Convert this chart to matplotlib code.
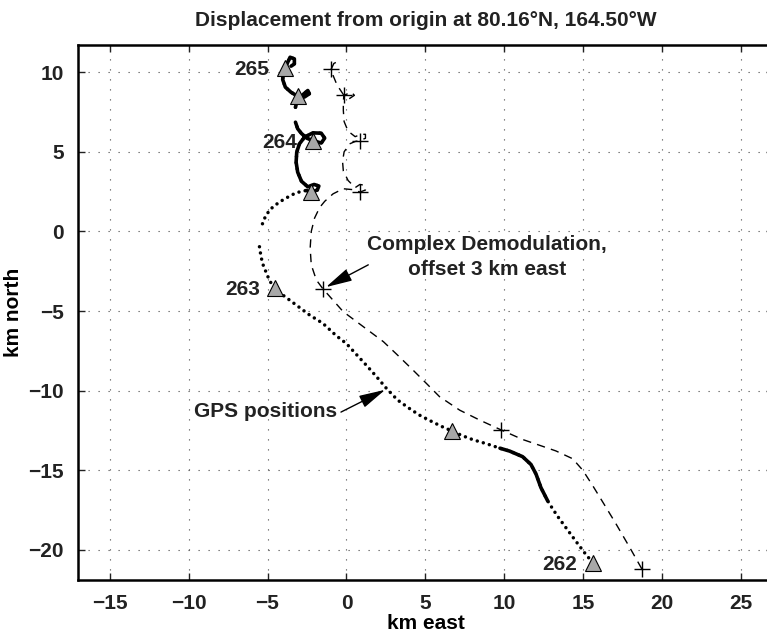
import matplotlib
matplotlib.use("Agg")
import matplotlib.pyplot as plt
import numpy as np

plt.rcParams['font.family'] = ['Liberation Sans', 'DejaVu Sans']
plt.rcParams['font.weight'] = 'bold'

nan = np.nan

# GPS track, km east / km north, from day 262 to day 265 (nan = gap)
gps_x = [15.59, 15.17, 14.53, 13.90, 13.37, 13.05, 12.74, 12.31, 12.00, 11.68,
         11.15, 10.33, 9.72, 8.87, 8.02, 7.28, 6.70, 6.21, 5.47, 4.62,
         3.98, 3.23, 2.52, 1.88, 1.25, 0.60, 0.00, -0.65, -1.49, -2.34,
         -3.19, -4.04, -4.50, -4.68, -4.89, -5.11, -5.32, -5.43, -5.53, nan,
         -5.32, -5.11, -4.79, -4.26, -3.72, -3.19, -2.55, -2.23, -1.85, -1.75,
         -2.05, -2.45, -2.85, -3.09, -3.19, -3.15, -2.98, -2.66, -2.13, -1.60,
         -1.38, -1.60, -2.13, -2.50, -2.85, -3.09, -3.23, nan, -3.23, -3.12,
         -2.75, -2.45, -2.35, -2.65, -3.09, -3.51, -3.87, -4.04, -4.00, -3.87,
         -3.72, -3.57, -3.30, -3.30, -3.51]
gps_y = [-20.80, -20.31, -19.47, -18.62, -17.90, -17.42, -16.93, -16.09, -15.24, -14.64,
         -14.15, -13.80, -13.62, -13.34, -13.09, -12.81, -12.54, -12.34, -11.98, -11.54,
         -11.12, -10.59, -9.85, -9.10, -8.40, -7.70, -7.05, -6.55, -5.78, -5.25,
         -4.62, -3.99, -3.58, -3.40, -3.05, -2.52, -2.00, -1.47, -0.84, nan,
         0.48, 1.00, 1.42, 1.84, 2.15, 2.43, 2.57, 2.47, 2.60, 2.85,
         2.95, 2.80, 3.15, 3.72, 4.35, 4.98, 5.50, 5.92, 6.19, 6.17,
         5.86, 5.55, 5.71, 5.85, 6.15, 6.45, 6.86, nan, 7.80, 8.25,
         8.60, 8.85, 8.65, 8.45, 8.49, 8.74, 9.06, 9.54, 10.00, 10.25,
         10.63, 10.94, 10.84, 10.52, 10.38]
# stretches where the fixes are so close they merge into a line
dense_runs = [(6, 12), (46, 85)]

# complex demodulation track, already offset 3 km east
cd_x = [18.70, 17.92, 17.07, 16.33, 15.59, 14.96, 14.32, 13.26, 12.21, 11.15,
        9.77, 8.45, 7.17, 5.89, 5.04, 4.19, 3.16, 2.34, 1.49, 0.64,
        -0.21, -0.96, -1.49, -1.91, -2.23, -2.30, -2.23, -2.02, -1.70, -1.38,
        -0.85, -0.21, 0.45, 0.85, 1.20, 1.15, 0.85, 0.55, 0.10, -0.20,
        -0.25, -0.15, 0.20, 0.55, 0.85, 1.20, 1.20, 0.90, 0.55, 0.10,
        -0.15, -0.20, -0.20, -0.17, 0.30, 0.50, 0.20, -0.20, -0.60, -0.85,
        -0.96, -0.80, -0.60]
cd_y = [-21.20, -19.83, -18.38, -17.17, -15.97, -15.00, -14.28, -13.79, -13.43, -13.07,
        -12.46, -11.86, -11.23, -10.38, -9.53, -8.69, -7.70, -6.93, -6.30, -5.67,
        -5.04, -4.20, -3.61, -3.05, -2.10, -1.05, 0.00, 0.84, 1.50, 1.89,
        2.36, 2.68, 2.62, 2.47, 2.60, 2.90, 2.95, 2.75, 3.20, 3.80,
        4.40, 5.00, 5.50, 5.65, 5.71, 5.85, 6.10, 6.10, 5.95, 6.30,
        6.90, 7.60, 8.10, 8.54, 8.75, 8.55, 8.35, 8.60, 9.20, 9.80,
        10.21, 10.55, 10.65]

# day markers
tri_x = [15.59, 6.70, -4.50, -2.23, -2.13, -3.09, -3.87]
tri_y = [-20.80, -12.54, -3.58, 2.47, 5.71, 8.49, 10.25]
tri_lab = ['262', '', '263', '', '264', '', '265']
plus_x = [18.70, 9.77, -1.49, 0.85, 0.85, -0.17, -0.96]
plus_y = [-21.20, -12.46, -3.61, 2.47, 5.71, 8.54, 10.21]

fig = plt.figure(figsize=(7.67, 6.36), dpi=100)
ax = fig.add_axes([0.1017, 0.088, 0.906, 0.841])

ax.plot(cd_x, cd_y, color='k', lw=1.0, linestyle=(0, (6, 4.5)), zorder=3)
ax.plot(plus_x, plus_y, '+', color='k', ms=11, mew=1.0, zorder=4)

gx = np.array(gps_x)
gy = np.array(gps_y)
ax.plot(gx, gy, color='k', lw=2.5, linestyle=(0, (0.01, 1.8)),
        dash_capstyle='round', zorder=3)
for a, b in dense_runs:
    ax.plot(gx[a:b + 1], gy[a:b + 1], color='k', lw=2.6,
            solid_capstyle='round', solid_joinstyle='round', zorder=3)

ax.plot(tri_x, tri_y, '^', ms=11, mfc='#a8a8a8', mec='k', mew=0.8, zorder=5)
for x, y, s in zip(tri_x, tri_y, tri_lab):
    if s:
        ax.text(x - 1.0, y - 0.1, s, ha='right', va='center', fontsize=15,
                fontweight='bold', color='#222222')

ax.text(8.9, -1.6, 'Complex Demodulation,\noffset 3 km east', ha='center',
        va='center', fontsize=15, fontweight='bold', color='#222222',
        linespacing=1.45)
ax.annotate('', xy=(-1.3, -3.5), xytext=(1.38, -2.1),
            arrowprops=dict(arrowstyle='-|>,head_length=0.9,head_width=0.22',
                            lw=1.0, color='k', mutation_scale=18, shrinkA=0, shrinkB=0))
ax.text(-0.6, -11.3, 'GPS positions', ha='right', va='center', fontsize=15,
        fontweight='bold', color='#222222')
ax.annotate('', xy=(2.45, -9.95), xytext=(-0.35, -11.35),
            arrowprops=dict(arrowstyle='-|>,head_length=0.9,head_width=0.22',
                            lw=1.0, color='k', mutation_scale=18, shrinkA=0, shrinkB=0))

ax.set_xlim(-17, 27)
ax.set_ylim(-21.9, 11.7)
ax.set_xticks(np.arange(-15, 26, 5))
ax.set_yticks(np.arange(-20, 11, 5))
ax.set_xticklabels([str(v).replace('-', '\u2212') for v in range(-15, 26, 5)])
ax.set_yticklabels([str(v).replace('-', '\u2212') for v in range(-20, 11, 5)])
ax.grid(True, color='0.35', lw=0.8, linestyle=(0, (1.1, 7.9)))
ax.set_axisbelow(True)
ax.tick_params(direction='in', top=True, right=True, length=5, width=1.0,
               labelsize=15, pad=10, colors='#222222')
for lab in ax.get_xticklabels() + ax.get_yticklabels():
    lab.set_fontweight('bold')
for sp in ax.spines.values():
    sp.set_linewidth(1.8)

ax.set_xlabel('km east', fontsize=15, fontweight='bold', labelpad=1)
ax.set_ylabel('km north', fontsize=15, fontweight='bold', labelpad=4)
ax.set_title('Displacement from origin at 80.16\u00b0N, 164.50\u00b0W',
             fontsize=15, fontweight='bold', pad=14, color='#222222')

fig.savefig('out.png', dpi=100)
